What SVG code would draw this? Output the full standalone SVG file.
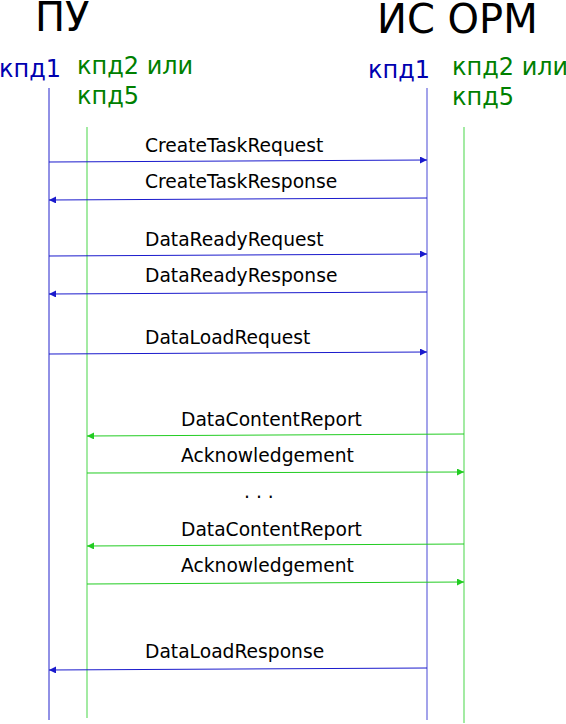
<svg xmlns="http://www.w3.org/2000/svg" width="566" height="724" viewBox="0 0 566 724">
<style>
.t{font-family:"DejaVu Sans",sans-serif;}
.title{font-size:40px;fill:#000;}
.b{font-size:24px;fill:#0000b0;}
.g{font-size:24px;fill:#008000;}
.m{font-size:18.7px;fill:#000;}
.lb{stroke:#2222cc;stroke-width:1;fill:none;}
.lb2{stroke:#6666dd;stroke-width:1.2;fill:none;}
.lg{stroke:#66dd66;stroke-width:1.2;fill:none;}
.ab{stroke:#1a1acc;stroke-width:1;fill:none;marker-end:url(#hb);}
.ag{stroke:#22cc22;stroke-width:1;fill:none;marker-end:url(#hg);}
</style>
<defs>
<marker id="hb" viewBox="0 0 10 10" refX="10" refY="5" markerWidth="9" markerHeight="7" markerUnits="userSpaceOnUse" orient="auto"><path d="M0,0 L10,5 L0,10 Z" fill="#1a1acc"/></marker>
<marker id="hg" viewBox="0 0 10 10" refX="10" refY="5" markerWidth="9" markerHeight="7" markerUnits="userSpaceOnUse" orient="auto"><path d="M0,0 L10,5 L0,10 Z" fill="#22cc22"/></marker>
</defs>
<g id="pu">
<text class="t title" x="35" y="31">ПУ</text>
<text class="t b" x="-1" y="77">кпд1</text>
<text class="t g" x="77" y="74">кпд2 или</text>
<text class="t g" x="77" y="104">кпд5</text>
<line class="lb" x1="49" y1="88" x2="49" y2="720"/>
<line class="lg" x1="87" y1="127" x2="87" y2="718"/>
</g>
<g id="isorm">
<text class="t title" x="377" y="33">ИС ОРМ</text>
<text class="t b" x="368" y="78">кпд1</text>
<text class="t g" x="452" y="75">кпд2 или</text>
<text class="t g" x="452" y="105">кпд5</text>
<line class="lb2" x1="427" y1="88" x2="427" y2="720"/>
<line class="lg" x1="464" y1="127" x2="464" y2="723"/>
</g>
<g id="connectors">
<line class="ab" x1="49" y1="162" x2="427" y2="160"/>
<text class="t m" x="145" y="152">CreateTaskRequest</text>
<line class="ab" x1="427" y1="198" x2="49" y2="200"/>
<text class="t m" x="145" y="188">CreateTaskResponse</text>
<line class="ab" x1="49" y1="256" x2="427" y2="254"/>
<text class="t m" x="145" y="246">DataReadyRequest</text>
<line class="ab" x1="427" y1="292" x2="49" y2="294"/>
<text class="t m" x="145" y="282">DataReadyResponse</text>
<line class="ab" x1="49" y1="354" x2="427" y2="352"/>
<text class="t m" x="145" y="344">DataLoadRequest</text>
<line class="ag" x1="464" y1="434" x2="87" y2="436"/>
<text class="t m" x="181" y="426">DataContentReport</text>
<line class="ag" x1="87" y1="473" x2="464" y2="472"/>
<text class="t m" x="181" y="462">Acknowledgement</text>
<text class="t m" x="244" y="498">. . .</text>
<line class="ag" x1="464" y1="544" x2="87" y2="546"/>
<text class="t m" x="181" y="536">DataContentReport</text>
<line class="ag" x1="87" y1="584" x2="464" y2="582"/>
<text class="t m" x="181" y="572">Acknowledgement</text>
<line class="ab" x1="427" y1="668" x2="49" y2="670"/>
<text class="t m" x="145" y="658">DataLoadResponse</text>
</g>
</svg>
